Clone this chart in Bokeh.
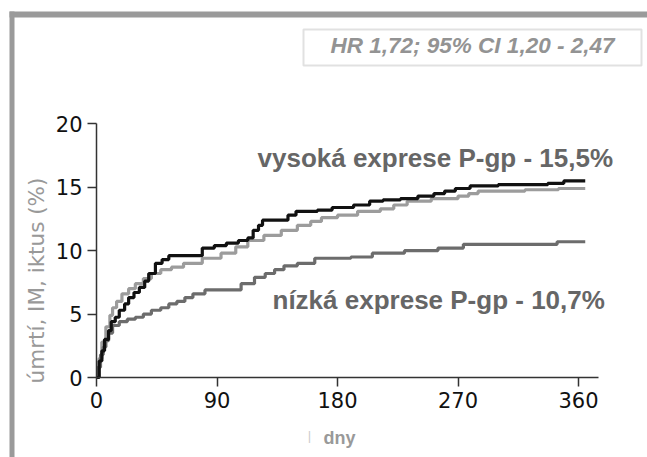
import math
from bokeh.plotting import figure
from bokeh.models import Range1d, Label, BoxAnnotation, FixedTicker
from bokeh.embed import file_html
from bokeh.resources import INLINE

# ---- data ----
days_high = [0, 2, 4, 6, 9, 11, 14, 17, 21, 24, 28, 32, 36, 39, 44, 49, 54, 79, 88, 97, 106, 113, 117,
             121, 124, 143, 149, 165, 176, 192, 204, 214, 227, 240, 252, 260, 268, 279, 300, 337, 349, 365]
pct_high = [0, 1.3, 2.1, 3.0, 3.7, 4.4, 4.75, 5.3, 5.8, 6.3, 6.7, 7.1, 7.6, 8.2, 9.0, 9.3, 9.6, 10.2, 10.4,
            10.6, 10.8, 11.0, 11.6, 12.0, 12.4, 12.8, 13.1, 13.2, 13.4, 13.6, 13.9, 14.0, 14.1, 14.3, 14.5,
            14.7, 14.9, 15.1, 15.2, 15.3, 15.5, 15.5]

days_mid = [0, 2, 4, 7, 10, 12, 15, 19, 24, 29, 35, 41, 48, 56, 65, 79, 93, 104, 113, 125, 138, 150, 160,
            168, 180, 195, 212, 222, 232, 250, 270, 278, 285, 320, 345, 365]
pct_mid = [0, 1.5, 2.8, 4.0, 4.9, 5.5, 6.0, 6.6, 7.0, 7.4, 7.8, 8.2, 8.5, 8.7, 9.0, 9.4, 9.8, 10.3, 10.8,
           11.2, 11.6, 12.0, 12.3, 12.6, 12.8, 13.1, 13.3, 13.6, 13.9, 14.1, 14.3, 14.5, 14.7, 14.8, 14.9, 14.9]

days_low = [0, 1, 3, 5, 7, 9, 12, 17, 23, 29, 35, 41, 48, 54, 60, 66, 72, 81, 108, 118, 126, 133, 140, 150,
            163, 190, 206, 230, 255, 274, 344, 365]
pct_low = [0, 0.8, 1.8, 2.4, 2.9, 3.5, 4.1, 4.4, 4.6, 4.75, 5.0, 5.3, 5.5, 5.8, 6.0, 6.3, 6.6, 6.9, 7.4, 7.9,
           8.2, 8.5, 8.8, 9.0, 9.4, 9.5, 9.8, 10.0, 10.2, 10.5, 10.7, 10.7]

x_ticks = [0, 90, 180, 270, 360]
y_ticks = [0, 5, 10, 15, 20]

label_high = "vysoká exprese P-gp - 15,5%"
label_low = "nízká exprese P-gp - 10,7%"
hr_text = "HR 1,72; 95% CI 1,20 - 2,47"
y_title = "úmrtí, IM, iktus (%)"
x_title = "dny"

# ---- pixel <-> data helpers (layout only) ----
X0, XS = 96.0, 1.339     # pixel of day 0, px per day
Y0, YS = 377.0, 12.685   # pixel of 0 %, px per %
W, H = 647, 457

def dx(px):
    return (px - X0) / XS

def dy(py):
    return (Y0 - py) / YS

p = figure(width=W, height=H, x_range=Range1d(dx(0), dx(W)), y_range=Range1d(dy(H), dy(0)),
           output_backend="svg", toolbar_location=None, min_border=0,
           min_border_left=0, min_border_right=0, min_border_top=0, min_border_bottom=0)
p.outline_line_color = None
p.grid.visible = False
p.background_fill_color = "white"
p.border_fill_color = "white"

for ax in (p.xaxis[0], p.yaxis[0]):
    ax.fixed_location = 0
    ax.axis_line_color = "#333333"
    ax.axis_line_width = 1.5
    ax.major_tick_line_color = "#333333"
    ax.major_tick_line_width = 1.5
    ax.major_tick_out = 9
    ax.major_tick_in = 0
    ax.minor_tick_line_color = None
    ax.major_label_text_font = "DejaVu Sans"
    ax.major_label_text_font_size = "21px"
    ax.major_label_text_color = "#111111"
    ax.major_label_standoff = 5

p.xaxis.ticker = FixedTicker(ticks=x_ticks)
p.yaxis.ticker = FixedTicker(ticks=y_ticks)
p.xaxis.bounds = (0, 375)
p.yaxis.bounds = (0, 20)

# frame decoration
p.add_layout(BoxAnnotation(left=dx(9), right=dx(W + 2), top=dy(11), bottom=dy(17),
                           fill_color="#9a9a9a", fill_alpha=1, line_color=None))
p.add_layout(BoxAnnotation(left=dx(9), right=dx(14), top=dy(11), bottom=dy(H + 2),
                           fill_color="#9a9a9a", fill_alpha=1, line_color=None))

# curves
p.step(days_mid, pct_mid, mode="after", line_width=3.2, line_color="#9c9c9c")
p.step(days_low, pct_low, mode="after", line_width=3.2, line_color="#6c6c6c")
p.step(days_high, pct_high, mode="after", line_width=3.2, line_color="#111111")

# HR box
p.add_layout(BoxAnnotation(left=dx(303), right=dx(641), top=dy(29), bottom=dy(65),
                           fill_alpha=0, line_color="#9a9a9a", line_width=2))
p.add_layout(Label(x=dx(472), y=dy(45), text=hr_text, text_align="center",
                   text_baseline="alphabetic", text_font="Liberation Sans",
                   text_font_style="bold italic", text_font_size="22.5px", text_color="#939393"))

# series labels
p.add_layout(Label(x=dx(257), y=dy(157), text=label_high, text_align="left",
                   text_baseline="alphabetic", text_font="Liberation Sans",
                   text_font_style="bold", text_font_size="26px", text_color="#666666"))
p.add_layout(Label(x=dx(272), y=dy(299), text=label_low, text_align="left",
                   text_baseline="alphabetic", text_font="Liberation Sans",
                   text_font_style="bold", text_font_size="26px", text_color="#666666"))

# axis titles
p.add_layout(Label(x=dx(36), y=dy(280), text=y_title, angle=math.pi / 2, text_align="center",
                   text_baseline="middle", text_font="DejaVu Sans", text_font_size="21.5px",
                   text_color="#999999"))
p.add_layout(Label(x=dx(309), y=dy(435), text="|", text_align="center",
                   text_baseline="alphabetic", text_font="Liberation Sans", text_font_size="13px",
                   text_color="#cccccc"))
p.add_layout(Label(x=dx(323), y=dy(437), text=x_title, text_align="left",
                   text_baseline="alphabetic", text_font="Liberation Sans", text_font_style="bold",
                   text_font_size="18px", text_color="#999999"))

open("out.html", "w").write(file_html(p, INLINE))
